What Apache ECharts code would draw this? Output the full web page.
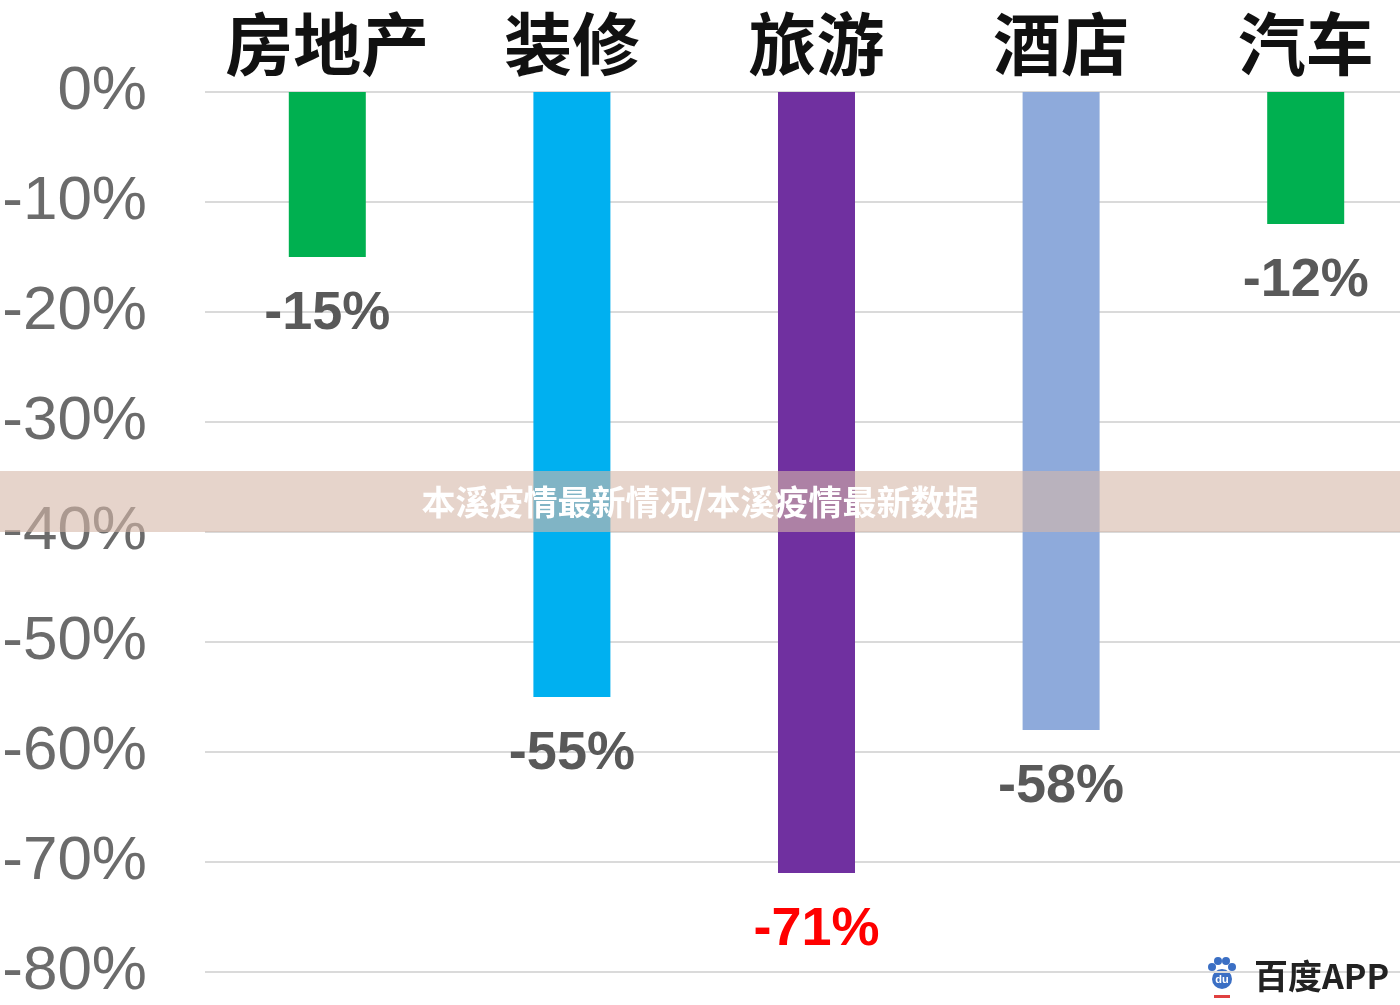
<!DOCTYPE html>
<html>
<head>
<meta charset="utf-8">
<script src="https://cdn.jsdelivr.net/npm/echarts@6/dist/echarts.min.js"></script>
<style>
  html, body { margin: 0; padding: 0; background: #fff; }
  #chart { width: 1400px; height: 1005px; }
</style>
</head>
<body>
<div id="chart"></div>
<script>
const categories = ["房地产", "装修", "旅游", "酒店", "汽车"];
const changes = [-15, -55, -71, -58, -12];
const barColors = ["#00b050", "#00b0f0", "#7030a0", "#8eaadb", "#00b050"];
const labelColors = ["#595959", "#595959", "#ff0000", "#595959", "#595959"];
const bannerText = "本溪疫情最新情况/本溪疫情最新数据";

const renderChart = () => {
  var myChart = echarts.init(document.getElementById("chart"));

  var data = changes.map((v, i) => ({
    value: v,
    itemStyle: { color: barColors[i] },
    label: { color: labelColors[i] },
  }));

  var option = {
    animation: false,
    grid: {
      left: 205,
      right: -28,
      top: 92,
      bottom: 33,
      containLabel: false,
      outerBoundsMode: "none",
    },
    xAxis: {
      type: "category",
      position: "top",
      data: categories,
      axisLine: { show: false },
      axisTick: { show: false },
      axisLabel: {
        interval: 0,
        margin: 14,
        fontSize: 68,
        fontWeight: "bold",
        color: "#111",
        fontFamily: "Noto Sans CJK SC",
      },
    },
    yAxis: {
      type: "value",
      min: -80,
      max: 0,
      interval: 10,
      axisLine: { show: false },
      axisTick: { show: false },
      splitLine: { lineStyle: { color: "#dadada", width: 2 } },
      axisLabel: {
        margin: 58,
        fontSize: 62,
        color: "#6b6b6b",
        fontFamily: "Liberation Sans",
        formatter: (v) => v + "%",
      },
    },
    series: [
      {
        type: "bar",
        data: data,
        barWidth: 77,
        label: {
          show: true,
          position: "bottom",
          distance: 30,
          fontSize: 54,
          fontWeight: "bold",
          fontFamily: "Liberation Sans",
          formatter: (p) => p.value + "%",
        },
      },
    ],
    graphic: [
      // banner overlay
      {
        type: "rect",
        shape: { x: 0, y: 471, width: 1400, height: 61 },
        style: { fill: "rgba(214,184,168,0.6)" },
        z: 100,
      },
      {
        type: "text",
        x: 700,
        y: 502,
        style: {
          text: bannerText,
          fill: "#fff",
          font: "bold 34px 'Noto Sans CJK SC'",
          align: "center",
          verticalAlign: "middle",
        },
        z: 101,
      },
      // baidu watermark
      {
        type: "group",
        x: 1222,
        y: 975,
        z: 100,
        children: [
          { type: "circle", shape: { cx: -10, cy: -8, r: 4 }, style: { fill: "#3b6fc4" } },
          { type: "circle", shape: { cx: -4, cy: -14, r: 4 }, style: { fill: "#3b6fc4" } },
          { type: "circle", shape: { cx: 4, cy: -14, r: 4 }, style: { fill: "#3b6fc4" } },
          { type: "circle", shape: { cx: 10, cy: -8, r: 4 }, style: { fill: "#3b6fc4" } },
          { type: "circle", shape: { cx: 0, cy: 4, r: 10 }, style: { fill: "#3b6fc4" } },
          { type: "text", x: 0, y: 5, style: { text: "du", fill: "#fff", font: "bold 11px sans-serif", align: "center", verticalAlign: "middle" } },
          { type: "rect", shape: { x: -8, y: 20, width: 16, height: 3 }, style: { fill: "#e04040" } },
        ],
      },
      {
        type: "text",
        x: 1254,
        y: 976,
        style: {
          text: "百度APP",
          fill: "#222",
          font: "bold 34px 'Noto Sans CJK SC'",
          verticalAlign: "middle",
        },
        z: 100,
      },
    ],
  };

  myChart.setOption(option);
};

document.addEventListener("DOMContentLoaded", renderChart);
</script>
</body>
</html>
